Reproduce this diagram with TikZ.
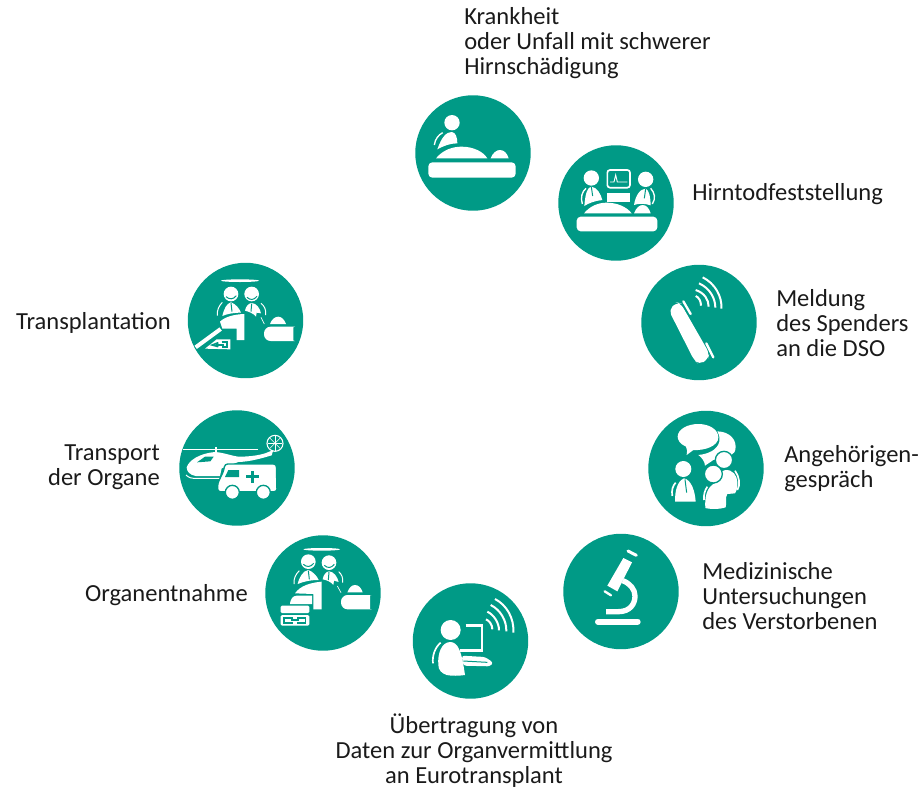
\documentclass[tikz,border=0pt]{standalone}
\usepackage{fontspec}
\setmainfont{Carlito}
\definecolor{teal}{HTML}{009A86}
\definecolor{ink}{HTML}{1A1A1A}
\tikzset{
  disc/.style={circle,fill=teal,draw=none,minimum size=86.6pt,inner sep=0pt},
  lbl/.style={inner sep=0pt,text=ink,font=\fontsize{18.4}{18.75}\selectfont},
  crop/.style={x=.25pt,y=-.25pt},
  wh/.style={fill=white,draw=none},
  ln/.style={draw=white,line width=#1*.25pt,fill=none},
  ln/.default=6,
  cut/.style={draw=teal,line width=#1*.25pt,fill=none},
  cut/.default=3,
  wave/.style={draw=white,line width=6*.25pt,fill=none}
}
\begin{document}
\begin{tikzpicture}[x=.75pt,y=-.75pt]
\useasboundingbox (0,0) rectangle (922,789);
% discs
\node[disc] (d1) at (473,153) {};
\node[disc] (d2) at (616,203) {};
\node[disc] (d3) at (699,322.5) {};
\node[disc] (d4) at (706,468.5) {};
\node[disc] (d5) at (621,591.5) {};
\node[disc] (d6) at (470.5,641) {};
\node[disc] (d7) at (323,593) {};
\node[disc] (d8) at (237,468) {};
\node[disc] (d9) at (245.5,320.5) {};
% labels
\node[lbl,anchor=west,align=left] (t1) at (464,43) {Krankheit\\oder Unfall mit schwerer\\Hirnschädigung};
\node[lbl,anchor=west,align=left] (t2) at (692,194) {Hirntodfeststellung};
\node[lbl,anchor=west,align=left] (t3) at (776,323) {Meldung\\des Spenders\\an die DSO};
\node[lbl,anchor=west,align=left] (t4) at (784,469) {Angehörigen-\\gespräch};
\node[lbl,anchor=west,align=left] (t5) at (702,596) {Medizinische\\Untersuchungen\\des Verstorbenen};
\node[lbl,align=center] (t6) at (474,751) {Übertragung von\\Daten zur Organvermittlung\\an Eurotransplant};
\node[lbl,anchor=east,align=right] (t7) at (248,595) {Organentnahme};
\node[lbl,anchor=east,align=right] (t8) at (160,467) {Transport\\der Organe};
\node[lbl,anchor=east,align=right] (t9) at (171,323) {Transplantation};
% icons 1 and 2
\begin{scope}[shift={(400,90)},crop]
  \fill[wh] (156,98) circle (23);
  \fill[wh] (112,178) .. controls (125,140) and (140,126) .. (155,126) .. controls (168,126) and (172,145) .. (172,160) .. controls (150,160) and (130,168) .. (112,178) -- cycle;
  \draw[ln=4] (103,165) .. controls (105,148) and (115,135) .. (128,128);
  \fill[wh] (108,205) .. controls (130,178) and (160,170) .. (185,170) .. controls (220,170) and (250,185) .. (262,205) -- cycle;
  \fill[wh] (272,205) .. controls (278,188) and (290,180) .. (300,180) .. controls (312,180) and (322,190) .. (326,205) -- cycle;
  \fill[wh,rounded corners=3pt] (85,217) rectangle (347,263);
  % second
  \fill[wh] (574,264) circle (23);
  \fill[wh] (737,268) circle (23);
  \fill[wh] (553,348) .. controls (556,310) and (562,292) .. (574,290) .. controls (592,292) and (602,312) .. (607,330) .. controls (585,332) and (565,340) .. (553,348) -- cycle;
  \draw[cut=3] (574,290) -- (578,318);
  \draw[ln=4] (547,342) .. controls (541,322) and (546,305) .. (558,295);
  \fill[wh] (702,345) .. controls (706,318) and (720,296) .. (737,296) .. controls (748,300) and (752,325) .. (752,346) .. controls (735,340) and (715,340) .. (702,345) -- cycle;
  \draw[cut=3] (737,296) -- (733,325);
  \draw[ln=4] (757,342) .. controls (768,325) and (764,308) .. (752,295);
  \draw[ln=5,rounded corners=2pt] (622,240) rectangle (690,293);
  \draw[draw=white,line width=.7pt] (630,276) -- (642,276) -- (647,255) -- (652,276) -- (682,276);
  \fill[wh] (622,308) rectangle (690,335);
  \fill[wh] (552,370) .. controls (570,348) and (595,338) .. (620,338) .. controls (650,338) and (680,350) .. (695,370) -- cycle;
  \fill[wh] (702,370) .. controls (708,354) and (718,345) .. (728,345) .. controls (740,345) and (748,356) .. (752,370) -- cycle;
  \fill[wh,rounded corners=3pt] (530,380) rectangle (772,424);
\end{scope}
% icons 3 and 4
\begin{scope}[shift={(630,260)},crop]
  \fill[wh,rounded corners=4pt] (116,150) -- (140,127) -- (152,130) -- (238,280) -- (234,298) -- (208,314) -- (192,300) -- cycle;
  \draw[ln=7,line cap=round] (160,124) -- (182,162);
  \draw[ln=7,line cap=round] (229,250) -- (250,292);
  \draw[wave] (197,108) .. controls (207,112) and (213,124) .. (213,137);
  \draw[wave] (197,90) .. controls (222,98) and (236,118) .. (236,140);
  \draw[wave] (207,70) .. controls (240,85) and (256,115) .. (256,143);
  \draw[wave] (218,52) .. controls (255,70) and (277,110) .. (274,146);
  % speech
  \fill[wh] (262,514) .. controls (300,515) and (322,540) .. (316,570) .. controls (312,590) and (270,595) .. (250,600) -- (225,617) .. controls (225,605) and (215,592) .. (205,585) .. controls (235,582) and (262,570) .. (268,545) .. controls (270,535) and (268,525) .. (262,514) -- cycle;
  \fill[wh] (205,492) .. controls (240,492) and (265,510) .. (265,532) .. controls (265,558) and (225,572) .. (190,570) -- (170,585) .. controls (172,575) and (172,568) .. (168,560) .. controls (150,552) and (143,540) .. (143,530) .. controls (143,508) and (172,492) .. (205,492) -- cycle;
  % left person
  \fill[wh] (160,627) circle (24);
  \fill[wh] (135,725) .. controls (135,695) and (140,665) .. (162,655) .. controls (185,660) and (195,695) .. (197,725) -- cycle;
  \draw[cut=3] (165,658) -- (170,698);
  \draw[ln=5] (127,708) .. controls (124,690) and (128,678) .. (137,668);
  % right persons
  \fill[wh] (258,655) .. controls (270,625) and (300,625) .. (312,640) .. controls (322,650) and (328,680) .. (315,700) -- (292,702) .. controls (285,710) and (290,735) .. (287,742) .. controls (270,748) and (240,748) .. (226,744) .. controls (224,715) and (228,680) .. (258,668) -- cycle;
  \draw[ln=5] (222,720) .. controls (220,705) and (225,690) .. (232,680);
  \draw[ln=5] (322,690) .. controls (332,675) and (328,650) .. (315,632);
  \filldraw[fill=white,draw=teal,line width=1pt] (282,600) circle (26);
  \filldraw[fill=white,draw=teal,line width=1pt] (250,642) circle (27);
\end{scope}
% icons 5 and 6
\begin{scope}[shift={(400,530)},crop]
  \draw[ln=18,line cap=round] (594,275) -- (713,275);
  \draw[ln=16] (618,245) -- (655,245) .. controls (690,245) and (705,222) .. (705,198) .. controls (705,178) and (690,160) .. (668,152);
  \fill[wh] (670,84) -- (696,97) -- (652,184) -- (622,167) -- cycle;
  \draw[ln=9,line cap=round] (684,63) -- (709,76);
  \draw[ln=7,line cap=round] (614,184) -- (633,196);
  % laptop person
  \fill[wh] (152,300) circle (30);
  \fill[wh] (115,405) .. controls (112,370) and (125,337) .. (150,336) .. controls (175,336) and (185,365) .. (195,435) .. controls (175,438) and (155,438) .. (140,435) .. controls (125,430) and (115,420) .. (115,405) -- cycle;
  \draw[ln=5] (99,400) .. controls (96,378) and (105,352) .. (122,338);
  \draw[ln=8] (197,287) -- (246,287) -- (246,362) -- (180,362);
  \fill[wh,rounded corners=2pt] (185,377) -- (255,381) -- (280,398) -- (270,409) -- (190,407) -- cycle;
  \draw[cut=3] (190,393) -- (262,397);
  \draw[wave] (258,268) .. controls (268,272) and (277,284) .. (277,298);
  \draw[wave] (262,245) .. controls (282,255) and (297,278) .. (297,301);
  \draw[wave] (272,225) .. controls (302,240) and (320,272) .. (319,304);
  \draw[wave] (285,207) .. controls (320,225) and (343,265) .. (340,308);
\end{scope}
% icon 7
\begin{scope}[shift={(260,530)},crop]
  \fill[wh] (185,58) ellipse (55 and 4);
  \fill[wh] (145,95) circle (22);
  \fill[wh] (207,98) circle (22);
  \draw[cut=3] (130,103) .. controls (140,112) and (152,112) .. (161,100);
  \draw[cut=3] (193,106) .. controls (203,115) and (213,115) .. (223,103);
  \fill[wh] (113,162) .. controls (118,140) and (130,122) .. (145,120) .. controls (160,125) and (172,140) .. (176,150) .. controls (150,150) and (130,155) .. (113,162) -- cycle;
  \fill[wh] (188,148) .. controls (190,135) and (198,125) .. (207,124) .. controls (222,125) and (232,140) .. (236,156) -- (222,152) -- (220,165) .. controls (212,155) and (200,150) .. (188,148) -- cycle;
  \draw[cut=3] (145,122) -- (148,148);
  \draw[cut=3] (207,126) -- (205,150);
  \draw[ln=3] (102,162) .. controls (100,148) and (107,132) .. (118,122);
  \draw[ln=3] (236,125) .. controls (245,132) and (250,145) .. (248,158);
  \fill[wh] (105,190) .. controls (120,168) and (150,158) .. (185,155) -- (185,238) -- (160,238) -- (160,192) -- cycle;
  \fill[wh] (90,220) .. controls (92,208) and (98,197) .. (110,197) -- (156,197) -- (156,222) -- (90,222) -- cycle;
  \fill[wh] (262,187) .. controls (268,172) and (276,165) .. (285,165) .. controls (296,165) and (304,174) .. (308,187) -- cycle;
  \fill[wh,rounded corners=5pt] (243,195) -- (315,195) .. controls (325,195) and (330,205) .. (330,218) .. controls (330,230) and (325,238) .. (315,238) -- (243,238) -- cycle;
  \draw[line width=.5pt,draw=white] (232,168) -- (243,188);
  \fill[wh,rounded corners=1pt] (62,227) rectangle (148,249);
  \fill[wh,rounded corners=1pt] (62,255) rectangle (148,287);
  \draw[cut=5] (100,263) -- (72,263) -- (72,278) -- (100,278);
  \draw[cut=5] (112,263) -- (136,263) -- (136,278) -- (112,278) (92,270) -- (118,270);
\end{scope}
% icons 8 and 9
\begin{scope}[shift={(175,260)},crop]
  % transplantation
  \fill[wh] (195,62) ellipse (57 and 4);
  \fill[wh] (168,102) circle (22);
  \fill[wh] (230,102) circle (22);
  \draw[cut=3] (153,110) .. controls (163,119) and (175,119) .. (184,107);
  \draw[cut=3] (216,112) .. controls (226,121) and (236,121) .. (246,109);
  \fill[wh] (142,168) .. controls (147,146) and (155,130) .. (168,127) .. controls (183,132) and (194,147) .. (198,158) .. controls (175,158) and (155,162) .. (142,168) -- cycle;
  \fill[wh] (210,152) .. controls (212,140) and (220,130) .. (230,129) .. controls (245,130) and (255,145) .. (258,160) -- (245,158) -- (243,170) .. controls (235,160) and (222,155) .. (210,152) -- cycle;
  \draw[cut=3] (168,129) -- (171,155);
  \draw[cut=3] (230,131) -- (228,155);
  \draw[ln=3] (127,167) .. controls (125,152) and (132,137) .. (142,127);
  \draw[ln=3] (258,130) .. controls (268,137) and (274,150) .. (272,165);
  \fill[wh] (135,185) .. controls (150,170) and (178,163) .. (208,162) -- (208,240) -- (185,240) -- (185,206) -- (142,206) -- cycle;
  \draw[ln=12] (62,262) -- (137,207);
  \fill[wh] (285,192) .. controls (290,178) and (300,170) .. (310,170) .. controls (320,170) and (329,180) .. (333,192) -- cycle;
  \fill[wh,rounded corners=5pt] (267,200) -- (340,200) .. controls (350,200) and (355,210) .. (355,222) .. controls (355,235) and (350,243) .. (340,243) -- (267,243) -- cycle;
  \draw[line width=.5pt,draw=white] (258,172) -- (268,192);
  \fill[wh] (90,266) -- (125,238) -- (166,238) -- (166,268) -- cycle;
  \draw[cut=5] (130,248) -- (112,255) -- (130,260);
  \draw[cut=5] (140,246) -- (156,246) -- (156,260) -- (140,260) (122,254) -- (146,254);
  % transport
  \draw[ln=3] (25,567) -- (250,567);
  \draw[ln=5] (122,562) -- (122,582);
  \fill[wh] (35,622) .. controls (42,600) and (75,580) .. (120,576) .. controls (150,578) and (175,590) .. (195,590) .. controls (225,590) and (260,585) .. (278,577) -- (295,570) -- (290,586) .. controls (260,595) and (225,605) .. (190,606) -- (140,625) -- (135,648) -- (62,648) .. controls (45,645) and (35,635) .. (35,622) -- cycle;
  \fill[teal] (66,607) -- (90,590) -- (116,590) -- (106,604) -- cycle;
  \draw[ln=3] (33,645) .. controls (42,654) and (50,655) .. (62,655) -- (135,655);
  \draw[draw=white,line width=.8pt] (300,550) circle (24);
  \foreach \a in {0,45,...,315}{\draw[draw=white,line width=.4pt] (300,550) -- ++(\a:22);}
  \filldraw[fill=white,draw=teal,line width=1pt,rounded corners=2pt] (128,695) -- (128,670) -- (145,635) -- (150,612) -- (304,612) -- (306,695) -- cycle;
  \fill[teal] (160,630) -- (192,630) -- (192,651) -- (150,651) -- cycle;
  \fill[teal] (227,632) rectangle (237,668);
  \fill[teal] (214,645) rectangle (251,655);
  \filldraw[fill=white,draw=teal,line width=1pt] (172,697) circle (21);
  \filldraw[fill=white,draw=teal,line width=1pt] (265,697) circle (21);
\end{scope}
\end{tikzpicture}
\end{document}
